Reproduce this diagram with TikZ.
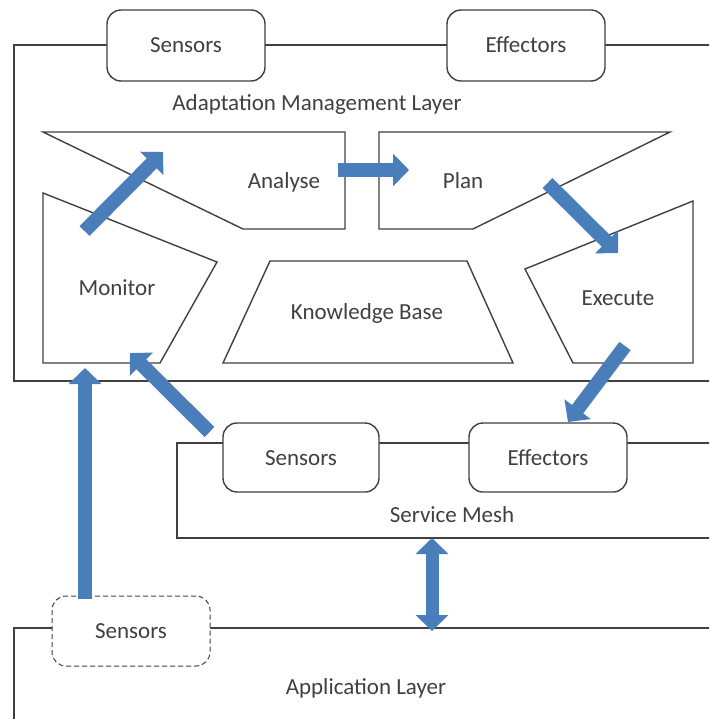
\documentclass[tikz,border=0pt]{standalone}
\usepackage{fontspec}
\setmainfont{Carlito}
\usetikzlibrary{arrows.meta}
\definecolor{ink}{RGB}{64,64,64}
\definecolor{flow}{RGB}{74,126,187}
\begin{document}
\begin{tikzpicture}[x=1pt,y=-1pt,
  outline/.style={draw=ink,line width=1.4pt,line join=miter},
  port/.style={outline,fill=white,rounded corners=14pt,minimum width=158pt,
    minimum height=71pt,inner sep=0pt,text=ink,
    font=\fontsize{23}{27}\selectfont,text height=15pt,text depth=0pt},
  dashedport/.style={port,dashed,dash pattern=on 5pt off 3pt,line width=1pt},
  caption/.style={inner sep=0pt,text=ink,font=\fontsize{23}{27}\selectfont,
    text height=15pt,text depth=0pt},
  flowarrow/.style={draw=flow,line width=14pt,
    -{Triangle[width=32pt,length=16pt]}},
  twoway/.style={draw=flow,line width=13pt,
    {Triangle[width=32pt,length=16pt]}-{Triangle[width=32pt,length=16pt]}}
]
\useasboundingbox (0,0) rectangle (709,719);
\clip (0,0) rectangle (709,719);

% layer outlines (open to the right)
\draw[outline] (720,45) -- (14,45) -- (14,381) -- (720,381);
\draw[outline] (720,443) -- (177,443) -- (177,538) -- (720,538);
\draw[outline] (720,628) -- (14,628) -- (14,730);

% MAPE-K stages
\draw[outline] (43,132) -- (345,132) -- (345,229) -- (243,229) -- cycle;
\draw[outline] (379,132) -- (670,132) -- (473,229) -- (379,229) -- cycle;
\draw[outline] (43,193) -- (217,262) -- (160,363) -- (43,363) -- cycle;
\draw[outline] (270,261) -- (467,261) -- (513,363) -- (223,363) -- cycle;
\draw[outline] (525,269) -- (693,201) -- (693,363) -- (573,363) -- cycle;

\node[caption] (analyse) at (284,181) {Analyse};
\node[caption] (plan) at (463,181) {Plan};
\node[caption] (monitor) at (117,288) {Monitor};
\node[caption] (kb) at (367,312) {Knowledge Base};
\node[caption] (execute) at (618,298) {Execute};

% layer titles
\node[caption] (aml) at (317,103) {Adaptation Management Layer};
\node[caption] (mesh) at (452,515) {Service Mesh};
\node[caption] (app) at (366,687) {Application Layer};

% sensor / effector ports
\node[port] (topsens) at (186,45.5) {Sensors};
\node[port] (topeff) at (526,45.5) {Effectors};
\node[port,minimum width=156pt,minimum height=69pt] (meshsens) at (301,457.5) {Sensors};
\node[port,minimum height=69pt] (mesheff) at (548,457.5) {Effectors};
\node[dashedport,minimum height=70pt] (appsens) at (131,631) {Sensors};

% control-loop arrow end points
\coordinate (m1) at (84.5,231);
\coordinate (a1) at (163,152);
\coordinate (a2) at (338,170);
\coordinate (p1) at (409,170);
\coordinate (p2) at (547.5,183);
\coordinate (e1) at (618,253);
\coordinate (e2) at (625,346);
\coordinate (f1) at (568,422);
\coordinate (s1) at (209.5,432);
\coordinate (m2) at (130,353);
\coordinate (s2) at (85,599);
\coordinate (l1) at (85,368);
\coordinate (d1) at (432,538);
\coordinate (d2) at (432,631);

\draw[flowarrow] (m1) -- (a1);
\draw[flowarrow] (a2) -- (p1);
\draw[flowarrow] (p2) -- (e1);
\draw[flowarrow] (e2) -- (f1);
\draw[flowarrow] (s1) -- (m2);
\draw[flowarrow] (s2) -- (l1);
\draw[twoway] (d1) -- (d2);
\end{tikzpicture}
\end{document}
